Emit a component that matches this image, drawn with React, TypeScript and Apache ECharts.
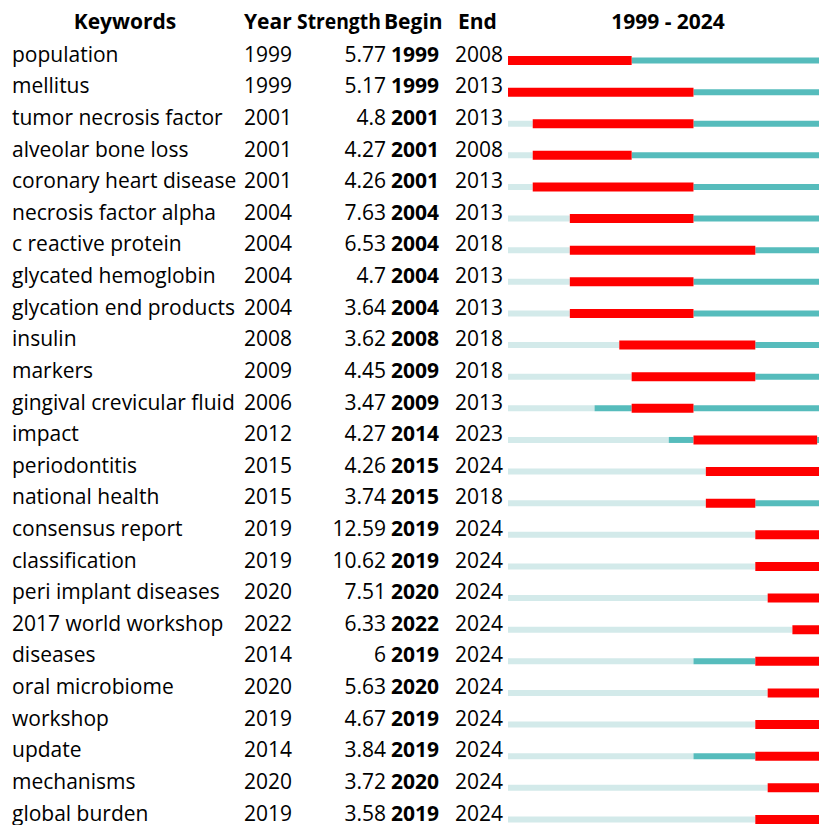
import React, { useEffect, useRef } from "react";
import * as echarts from "echarts";

const keywords = [
  "population", "mellitus", "tumor necrosis factor", "alveolar bone loss", "coronary heart disease",
  "necrosis factor alpha", "c reactive protein", "glycated hemoglobin", "glycation end products", "insulin",
  "markers", "gingival crevicular fluid", "impact", "periodontitis", "national health",
  "consensus report", "classification", "peri implant diseases", "2017 world workshop", "diseases",
  "oral microbiome", "workshop", "update", "mechanisms", "global burden",
];
const years = [1999, 1999, 2001, 2001, 2001, 2004, 2004, 2004, 2004, 2008, 2009, 2006, 2012, 2015, 2015, 2019, 2019, 2020, 2022, 2014, 2020, 2019, 2014, 2020, 2019];
const strengths = ["5.77", "5.17", "4.8", "4.27", "4.26", "7.63", "6.53", "4.7", "3.64", "3.62", "4.45", "3.47", "4.27", "4.26", "3.74", "12.59", "10.62", "7.51", "6.33", "6", "5.63", "4.67", "3.84", "3.72", "3.58"];
const begins = [1999, 1999, 2001, 2001, 2001, 2004, 2004, 2004, 2004, 2008, 2009, 2009, 2014, 2015, 2015, 2019, 2019, 2020, 2022, 2019, 2020, 2019, 2019, 2020, 2019];
const ends = [2008, 2013, 2013, 2008, 2013, 2013, 2018, 2013, 2013, 2018, 2018, 2013, 2023, 2024, 2018, 2024, 2024, 2024, 2024, 2024, 2024, 2024, 2024, 2024, 2024];
const startYear = 1999;
const endYear = 2024;
const headers = ["Keywords", "Year", "Strength", "Begin", "End", "1999 - 2024"];

const FONT = "'Open Sans', 'Noto Sans', sans-serif";
const FS = 21;
const RED = "#ff0000";
const TEAL = "#56bcbc";
const LIGHT = "#d3eaea";

export default function App() {
  const ref = useRef<HTMLDivElement>(null);
  useEffect(() => {
    if (!ref.current) return;
    const chart = echarts.init(ref.current, null, { renderer: "svg" });
    const rowData = keywords.map((_, i) => [years[i], i]);
    const txt = (x: number, y: number, text: string, align: string, bold = false, scaleX = 1) => ({
      type: "text",
      x,
      y,
      scaleX,
      style: {
        text,
        fill: "#000",
        fontSize: FS,
        lineHeight: 20,
        fontFamily: FONT,
        fontWeight: bold ? "bold" : "normal",
        align,
        verticalAlign: "middle",
      },
    });
    chart.setOption({
      animation: false,
      backgroundColor: "#ffffff",
      grid: {
        left: 508,
        width: 321.5,
        top: 44.7,
        height: 790.5,
        containLabel: false,
        outerBoundsMode: "none",
      },
      xAxis: {
        type: "value",
        min: startYear,
        max: endYear + 1,
        show: false,
      },
      yAxis: {
        type: "category",
        data: keywords,
        inverse: true,
        show: false,
      },
      graphic: [
        { ...txt(125, 21, headers[0], "center", true) },
        { ...txt(244, 21, headers[1], "left", true) },
        { ...txt(297, 21, headers[2], "left", true, 0.92) },
        { ...txt(384, 21, headers[3], "left", true) },
        { ...txt(458, 21, headers[4], "left", true) },
        { ...txt(668, 21, headers[5], "center", true) },
      ],
      series: [
        {
          type: "custom",
          data: rowData,
          encode: { x: 0, y: 1 },
          clip: false,
          renderItem: (params: any, api: any) => {
            const i = api.value(1);
            const y = api.coord([startYear, i])[1];
            const xAt = (yr: number) => api.coord([yr, i])[0];
            const segs: any[] = [];
            const add = (a: number, b: number, color: string, h: number) => {
              if (b <= a) return;
              const x0 = xAt(a);
              const x1 = xAt(b);
              segs.push({
                type: "rect",
                shape: { x: x0, y: y - h / 2, width: x1 - x0, height: h },
                style: { fill: color },
              });
            };
            add(startYear, years[i], LIGHT, 6);
            add(years[i], begins[i], TEAL, 6);
            add(ends[i] + 1, endYear + 1, TEAL, 6);
            add(begins[i], ends[i] + 1, RED, 9);
            return { type: "group", children: segs };
          },
        },
        {
          type: "custom",
          data: rowData,
          encode: { x: 0, y: 1 },
          clip: false,
          renderItem: (params: any, api: any) => {
            const i = api.value(1);
            const y = api.coord([startYear, i])[1] - 6.8;
            return {
              type: "group",
              children: [
                txt(12, y, keywords[i], "left"),
                txt(244, y, String(years[i]), "left"),
                txt(386, y, strengths[i], "right"),
                txt(391, y, String(begins[i]), "left", true),
                txt(455, y, String(ends[i]), "left"),
              ],
            };
          },
        },
      ],
    });
    return () => chart.dispose();
  }, []);
  return <div ref={ref} style={{ width: 819, height: 825, position: "absolute", left: 0, top: 0 }} />;
}
